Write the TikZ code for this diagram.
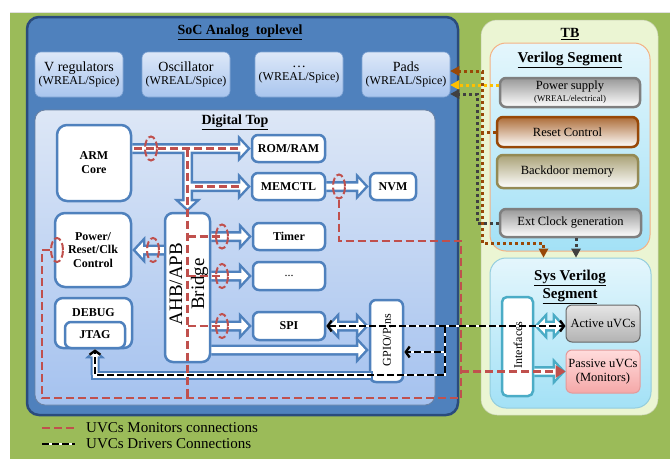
\documentclass[tikz,border=0pt]{standalone}
\usepackage{fontspec}
\setmainfont{Liberation Serif}
\usetikzlibrary{arrows.meta,calc,shapes.geometric}

\definecolor{bggreen}{HTML}{9BBB59}
\definecolor{socfill}{HTML}{4F81BD}
\definecolor{socline}{HTML}{2A4B7C}
\definecolor{blkline}{HTML}{4F81BD}
\definecolor{dtTop}{HTML}{DDE7F6}
\definecolor{dtBot}{HTML}{A5C2EF}
\definecolor{anTop}{HTML}{DDE8F8}
\definecolor{anBot}{HTML}{A9C5EE}
\definecolor{anLine}{HTML}{7FA3D3}
\definecolor{monred}{HTML}{C0504D}
\definecolor{rstbrown}{HTML}{984807}
\definecolor{supyellow}{HTML}{FFC000}
\definecolor{clkgray}{HTML}{404040}
\definecolor{itemgray}{HTML}{7F7F7F}
\definecolor{tbfill}{HTML}{EBF5D3}
\definecolor{segTop}{HTML}{E4F6FC}
\definecolor{segBot}{HTML}{A3E1F6}
\definecolor{vsegline}{HTML}{F4B183}
\definecolor{ssegline}{HTML}{93CDDD}
\definecolor{ifteal}{HTML}{4BACC6}
\definecolor{khaki}{HTML}{948A54}
\definecolor{pinkTop}{HTML}{FFDCDC}
\definecolor{pinkBot}{HTML}{F5A8A8}
\definecolor{pinkLine}{HTML}{E39A9A}

\tikzset{
  socbox/.style={rounded corners=12pt, fill=socfill, draw=socline, line width=2.5pt, inner sep=0pt},
  dtbox/.style={rounded corners=10pt, top color=dtTop, bottom color=dtBot, draw=socline!70, line width=0.8pt, inner sep=0pt},
  anabox/.style={rounded corners=6pt, top color=anTop, bottom color=anBot, draw=anLine, line width=0.6pt,
    align=center, font=\fontsize{14}{13}\selectfont, inner sep=0pt},
  blk/.style={rounded corners=6pt, fill=white, draw=blkline, line width=2.5pt, align=center,
    font=\fontsize{12}{14}\selectfont\bfseries, inner sep=0pt},
  heading/.style={font=\fontsize{14}{16}\selectfont\bfseries, align=center, inner sep=0pt},
  tbbox/.style={rounded corners=16pt, fill=tbfill, draw=tbfill!85!black, line width=0.5pt, inner sep=0pt},
  segbox/.style={rounded corners=16pt, top color=segTop, bottom color=segBot, line width=1pt, inner sep=0pt},
  tbitem/.style={rounded corners=6pt, line width=2.5pt, align=center, font=\fontsize{12.5}{13}\selectfont, inner sep=0pt,
    top color=#1!80, middle color=white!95!#1, bottom color=white, draw=#1},
  uvc/.style={rounded corners=6pt, line width=1pt, align=center, font=\fontsize{12.5}{14}\selectfont, inner sep=0pt},
  mon/.style={draw=monred, line width=2.6pt, dash pattern=on 8pt off 4pt,
    >={Triangle[width=13pt 0 0,length=10pt 0 0,line width=0pt 0 0]}},
  probe/.style={ellipse, draw=monred, line width=2pt, dash pattern=on 7pt off 3pt,
    minimum width=12pt, minimum height=24pt, inner sep=0pt},
  drv/.style={draw=black, line width=2.6pt, dash pattern=on 7pt off 3pt,
    preaction={draw=white, solid, line width=2.6pt},
    >={Straight Barb[length=4pt 0 0,width=11pt 0 0,line width=2.4pt 0 0]}},
  dotl/.style={draw=#1, line width=3pt, dash pattern=on 3pt off 3pt,
    >={Triangle[width=10pt 0 0,length=9pt 0 0,line width=0pt 0 0]}},
  legendtxt/.style={font=\fontsize{15}{17}\selectfont, anchor=west, inner sep=0pt},
}

% block arrow outline: #1 fill, #2 tail, #3 tip, #4 half shaft, #5 half head, #6 head length
\newcommand\sarrow[6]{%
  \coordinate (ahd) at ($(#3)!#6!(#2)$);
  \fill[#1] ($(#2)!#4!90:(#3)$) -- ($(ahd)!#4!90:(#3)$) -- ($(ahd)!#5!90:(#3)$) -- (#3)
    -- ($(ahd)!#5!-90:(#3)$) -- ($(ahd)!#4!-90:(#3)$) -- ($(#2)!#4!-90:(#3)$) -- cycle;}
% the same with a head at both ends
\newcommand\darrow[6]{%
  \coordinate (ahd) at ($(#3)!#6!(#2)$);
  \coordinate (atl) at ($(#2)!#6!(#3)$);
  \fill[#1] (#2) -- ($(atl)!#5!90:(#3)$) -- ($(atl)!#4!90:(#3)$) -- ($(ahd)!#4!90:(#3)$)
    -- ($(ahd)!#5!90:(#3)$) -- (#3) -- ($(ahd)!#5!-90:(#3)$) -- ($(ahd)!#4!-90:(#3)$)
    -- ($(atl)!#4!-90:(#3)$) -- ($(atl)!#5!-90:(#3)$) -- cycle;}
% coloured rim and white core
\newcommand\rimarrow[3]{\sarrow{#1}{#2}{#3}{5.5pt}{14pt}{13pt}}
\newcommand\corearrow[2]{%
  \coordinate (ie) at ($(#2)!3.4pt!(#1)$);
  \sarrow{white}{#1}{ie}{3pt}{7.6pt}{7.1pt}}
\newcommand\rimdarrow[3]{\darrow{#1}{#2}{#3}{5.5pt}{14pt}{13pt}}
\newcommand\coredarrow[2]{%
  \coordinate (is) at ($(#1)!3.4pt!(#2)$);
  \coordinate (ie) at ($(#2)!3.4pt!(#1)$);
  \darrow{white}{is}{ie}{3pt}{7.6pt}{7.1pt}}

\begin{document}
\begin{tikzpicture}[x=1pt,y=-1pt]
\useasboundingbox (0,0) rectangle (670,459);
\fill[white] (0,0) rectangle (670,459);
\fill[bggreen] (10,12) rectangle (670,459);
\draw[black!12, line width=1pt] (10,12) -- (670,12);

% ---------------- SoC analog top level ----------------
\node[socbox, minimum width=431pt, minimum height=398pt] (soc) at (242.5,216) {};
\node[heading] (soctitle) at (240,32) {\underline{SoC Analog\ \ toplevel}};

\node[anabox, minimum width=88pt, minimum height=45pt] (vreg) at (79,74.5)
  {V regulators\\{\fontsize{12}{13}\selectfont (WREAL/Spice)}};
\node[anabox, minimum width=88pt, minimum height=45pt] (osc) at (186,74.5)
  {Oscillator\\{\fontsize{12}{13}\selectfont (WREAL/Spice)}};
\node[anabox, minimum width=88pt, minimum height=45pt] (anadots) at (299,74.5)
  {…\\{\fontsize{12}{13}\selectfont (WREAL/Spice)}};
\node[anabox, minimum width=88pt, minimum height=45pt] (pads) at (406,74.5)
  {Pads\\{\fontsize{12}{13}\selectfont (WREAL/Spice)}};

% ---------------- digital top ----------------
\node[dtbox, minimum width=400pt, minimum height=295pt] (digital) at (235,257.5) {};
\node[heading] (dttitle) at (235,122) {\underline{Digital Top}};

\node[blk, rounded corners=10pt, minimum width=74pt, minimum height=76pt] (arm) at (94,163) {ARM\\Core};
\node[blk, minimum width=73pt, minimum height=27pt] (rom) at (288.5,148.5) {ROM/RAM};
\node[blk, minimum width=73pt, minimum height=27pt] (memctl) at (288.5,186.5) {MEMCTL};
\node[blk, minimum width=46pt, minimum height=27pt] (nvm) at (393,186.5) {NVM};
\node[blk, rounded corners=10pt, minimum width=76pt, minimum height=74pt, font=\fontsize{12}{13.5}\selectfont\bfseries]
  (power) at (93,250) {Power/\\Reset/Clk\\Control};
\node[blk, rounded corners=8pt, minimum width=77pt, minimum height=50pt] (debug) at (93.5,323) {};
\node[blk, draw=none, fill=none] (debugtxt) at (93.5,313) {DEBUG};
\node[blk, minimum width=60pt, minimum height=26pt] (jtag) at (95,335) {JTAG};
\node[blk, rounded corners=8pt, minimum width=45pt, minimum height=149pt] (bridge) at (187.5,287.5) {};
\node[rotate=90, align=center, font=\fontsize{19}{22}\selectfont, inner sep=0pt] (bridgetxt) at (189,284) {AHB/APB\\Bridge};
\node[blk, minimum width=72pt, minimum height=27pt] (timer) at (289,236.5) {Timer};
\node[blk, minimum width=72pt, minimum height=28pt, font=\fontsize{12}{14}\selectfont] (dotsb) at (289,276) {...};
\node[blk, minimum width=72pt, minimum height=28pt] (spi) at (289,326) {SPI};
\node[blk, minimum width=33pt, minimum height=82pt] (gpio) at (386.5,341) {};
\node[rotate=90, font=\fontsize{12}{14}\selectfont, inner sep=0pt] (gpiotxt) at (387,340) {GPIO/Pins};

% end points of the bus arrows
\coordinate (a1s) at (arm.east |- rom);        \coordinate (a1e) at (rom.west);
\coordinate (a2s) at (bridge.north |- rom);    \coordinate (a2e) at (bridge.north);
\coordinate (a3s) at (bridge.north |- memctl); \coordinate (a3e) at (memctl.west);
\coordinate (a4s) at (memctl.east);            \coordinate (a4e) at (nvm.west);
\coordinate (a5s) at (bridge.west |- power);   \coordinate (a5e) at (power.east);
\coordinate (a6s) at (bridge.east |- timer);   \coordinate (a6e) at (timer.west);
\coordinate (a7s) at (bridge.east |- dotsb);   \coordinate (a7e) at (dotsb.west);
\coordinate (a8s) at (bridge.east |- spi);     \coordinate (a8e) at (spi.west);
\coordinate (a9e) at ($(gpio.west)+(0,9)$);    \coordinate (a9s) at (bridge.east |- a9e);
\coordinate (a10s) at (spi.east);              \coordinate (a10e) at (spi.east -| gpio.west);

% bus arrows: rims first, then white cores so that branches merge
\foreach \s/\e in {a1s/a1e,a2s/a2e,a3s/a3e,a4s/a4e,a5s/a5e,a6s/a6e,a7s/a7e,a8s/a8e,a9s/a9e}
  {\rimarrow{blkline}{\s}{\e}}
\rimdarrow{blkline}{a10s}{a10e}
\foreach \s/\e in {a1s/a1e,a2s/a2e,a3s/a3e,a4s/a4e,a5s/a5e,a6s/a6e,a7s/a7e,a8s/a8e,a9s/a9e}
  {\corearrow{\s}{\e}}
\coredarrow{a10s}{a10e}

% driver path from the pins back to the JTAG port
\coordinate (dj) at (445,326);
\coordinate (db) at (445,375);
\coordinate (jc) at (jtag.south |- db);
\coordinate (jb) at (gpio.west |- db);
\draw[blkline, line width=9pt, line cap=rect] (jb) -- (jc);
\sarrow{blkline}{jc}{jtag.south}{4.5pt}{10pt}{9pt}
\draw[white, line width=5pt, line cap=rect] (jb) -- (jc);
\coordinate (jt) at ($(jtag.south)!2.7pt!(jc)$);
\sarrow{white}{jc}{jt}{2.5pt}{4.8pt}{4.3pt}

% ---------------- monitor (UVC) connections ----------------
\node[probe] (parm) at (151,148.5) {};
\node[probe] (pnvm) at (339,186.5) {};
\node[probe] (pbr) at (153,250) {};
\node[probe] (ppow) at (57,250) {};
\node[probe] (ptim) at (222,236.5) {};
\node[probe] (pdot) at (222,276) {};
\node[probe] (pspi) at (222,326) {};
\coordinate (mtr) at (461,241);
\coordinate (mbr) at (461,398);
\coordinate (mbl) at (42,398);

\draw[mon] ($(arm.east |- rom)+(2,0)$) -- ($(rom.west)+(-9,0)$);
\draw[mon] (bridge.north |- rom) -- (bridge.north |- mbl);
\draw[mon] ($(bridge.north |- memctl)+(7,0)$) -- ($(memctl.west)+(-9,0)$);
\draw[mon] (bridge.north |- timer) -- (ptim.center);
\draw[mon] (bridge.north |- dotsb) -- (pdot.center);
\draw[mon] (bridge.north |- spi) -- (pspi.center);
\draw[mon] (pnvm.south) |- (mtr) -- (mbr) -- (mbl) |- (ppow.west);

% ---------------- TB ----------------
\node[tbbox, minimum width=177pt, minimum height=395pt] (tb) at (569.5,217.5) {};
\node[heading] (tbtitle) at (570,34) {\underline{TB}};
\node[segbox, draw=vsegline, minimum width=160pt, minimum height=208pt] (vseg) at (570,147) {};
\node[heading, font=\fontsize{15}{17}\selectfont\bfseries] (vsegtitle) at (570,60) {\underline{Verilog Segment}};
\node[tbitem=itemgray, minimum width=140pt, minimum height=29pt] (psup) at (570,92.5)
  {Power supply\\[-1pt]{\fontsize{8.8}{9}\selectfont (WREAL/electrical)}};
\node[tbitem=rstbrown, minimum width=141pt, minimum height=30pt] (rst) at (567.5,132) {Reset Control};
\node[tbitem=khaki, minimum width=141pt, minimum height=33pt] (bdm) at (567.5,171.5) {Backdoor memory};
\node[tbitem=itemgray, minimum width=141pt, minimum height=28pt] (clk) at (570.5,223) {Ext Clock generation};

\node[segbox, draw=ssegline, minimum width=161pt, minimum height=150pt] (sseg) at (570.5,333) {};
\node[heading, font=\fontsize{15}{18}\selectfont\bfseries] (ssegtitle) at (570,287) {\underline{Sys Verilog}\\\underline{Segment}};
\node[rounded corners=5pt, fill=white, draw=ifteal, line width=2.5pt, minimum width=31pt, minimum height=99pt, inner sep=0pt]
  (intf) at (517.5,346.5) {};
\node[rotate=90, font=\fontsize{12}{14}\selectfont, inner sep=0pt] (intftxt) at (518,345) {Interfaces};
\node[uvc, top color=black!10, bottom color=black!30, draw=black!60, minimum width=74pt, minimum height=37pt]
  (active) at (603,323.5) {Active uVCs};
\node[uvc, top color=pinkTop, bottom color=pinkBot, draw=pinkLine, minimum width=74pt, minimum height=43pt]
  (passive) at (603,371.5) {Passive uVCs\\(Monitors)};

% interface arrows towards the UVCs
\coordinate (t1s) at (intf.east |- spi);     \coordinate (t1e) at (active.west |- spi);
\coordinate (t2s) at (intf.east |- passive); \coordinate (t2e) at (passive.west);
\rimdarrow{ifteal}{t1s}{t1e}
\rimarrow{ifteal}{t2s}{t2e}
\coredarrow{t1s}{t1e}
\corearrow{t2s}{t2e}

% monitor feed into the passive UVCs
\draw[mon,->] (mbr |- passive) -- (passive.west);

% ---------------- driver (UVC) connections ----------------
\draw[drv,<->] (spi.east) -- (spi.east -| active.west);
\draw[drv,->] (dj) |- ($(gpio.east)+(0,11)$);
\draw[drv,->] (dj) -- (db) -| (jtag.south);

% ---------------- TB to pads / segment links ----------------
\coordinate (brT) at (482,71);
\coordinate (brB) at (482,243);
\coordinate (gkT) at (477,94);
\draw[dotl=supyellow,->] ($(psup.west)+(0,-7.5)$) -- ($(pads.east)+(0,10.5)$);
\draw[dotl=rstbrown,->] (rst.west) -| (brT) -- (brT -| pads.east);
\draw[dotl=rstbrown,->] (rst.west -| brT) -- (brB) -| ($(sseg.north)+(-27,0)$);
\draw[dotl=clkgray,->] (clk.west) -| (gkT) -- (gkT -| pads.east);
\draw[dotl=clkgray,->] ($(clk.south)+(5.5,0)$) -- ($(sseg.north)+(5.5,0)$);

% ---------------- legend ----------------
\coordinate (lm1) at (42,428);
\coordinate (lm2) at (75,428);
\coordinate (ld1) at (42,444);
\coordinate (ld2) at (75,444);
\draw[mon] (lm1) -- (lm2);
\draw[drv] (ld1) -- (ld2);
\node[legendtxt] (lmt) at (86,428) {UVCs Monitors connections};
\node[legendtxt] (ldt) at (86,444) {UVCs Drivers Connections};
\end{tikzpicture}
\end{document}
